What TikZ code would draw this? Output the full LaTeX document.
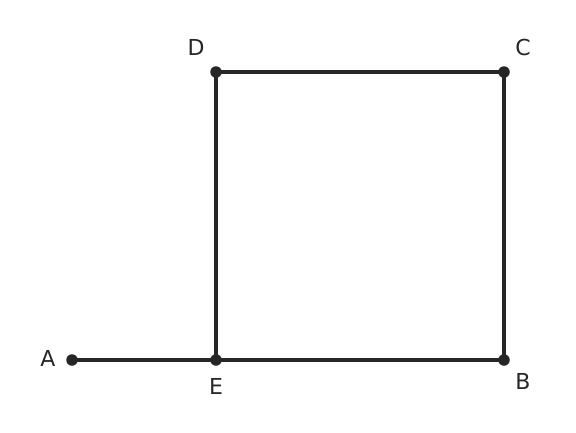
\documentclass[tikz,border=0pt]{standalone}
\usepackage{fontspec}
\setmainfont{DejaVu Sans}
\definecolor{ink}{HTML}{262626}
\begin{document}
\begin{tikzpicture}[x=1pt,y=-1pt,
  pt/.style={circle,fill=ink,inner sep=0pt,minimum size=11.5pt},
  lbl/.style={text=ink,font=\fontsize{22}{24}\selectfont,inner sep=0pt},
  seg/.style={draw=ink,line width=3.6pt}]
\useasboundingbox (0,0) rectangle (576,432);
\coordinate (A) at (72,360);
\coordinate (E) at (216,360);
\coordinate (B) at (504,360);
\coordinate (C) at (504,72);
\coordinate (D) at (216,72);
\draw[seg] (A) -- (E) -- (B) -- (C) -- (D) -- (E);
\node[pt] (pA) at (A) {};
\node[pt] (pE) at (E) {};
\node[pt] (pB) at (B) {};
\node[pt] (pC) at (C) {};
\node[pt] (pD) at (D) {};
\node[lbl] (lA) at (48,358) {A};
\node[lbl] (lE) at (216,386) {E};
\node[lbl] (lB) at (523,381) {B};
\node[lbl] (lC) at (523,47) {C};
\node[lbl] (lD) at (196,47) {D};
\end{tikzpicture}
\end{document}
